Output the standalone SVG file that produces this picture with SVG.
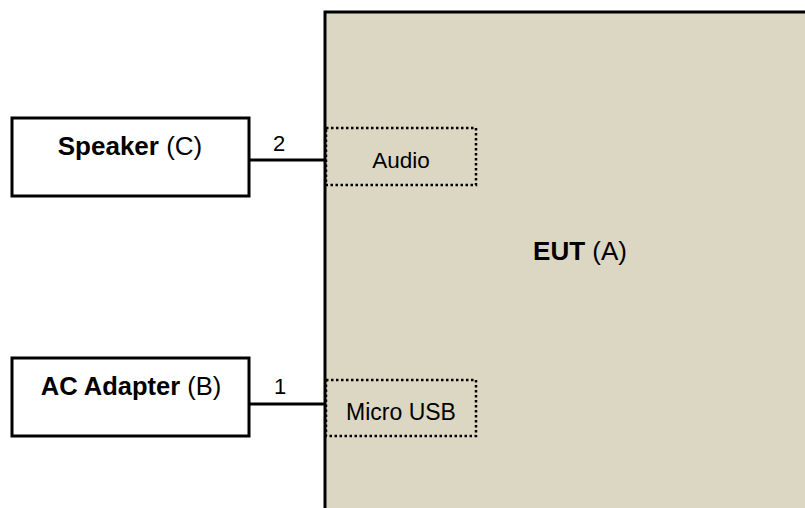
<svg xmlns="http://www.w3.org/2000/svg" width="805" height="508" viewBox="0 0 805 508">
<style>
.box{fill:#fff;stroke:#000;stroke-width:3}
.port{fill:none;stroke:#000;stroke-width:2.5;stroke-dasharray:2.5 2.5}
.t{font-family:"Liberation Sans",Arial,sans-serif;fill:#000}
.b{font-weight:bold}
.wire{stroke:#000;stroke-width:3;fill:none}
</style>
<rect width="805" height="508" fill="#fff"/>
<g id="eut">
<rect x="325" y="12" width="482" height="500" fill="#DCD7C2" stroke="#000" stroke-width="3"/>
<text class="t" x="580" y="260" font-size="26" text-anchor="middle"><tspan class="b">EUT</tspan> (A)</text>
</g>
<g id="audio">
<rect class="port" x="326" y="128" width="150" height="57"/>
<text class="t" x="401" y="168" font-size="22.5" text-anchor="middle">Audio</text>
</g>
<g id="microusb">
<rect class="port" x="326" y="380" width="150" height="56"/>
<text class="t" x="401" y="420" font-size="23" text-anchor="middle">Micro USB</text>
</g>
<g id="speaker">
<rect class="box" x="12" y="118" width="237" height="78"/>
<text class="t" x="130" y="155" font-size="26" text-anchor="middle"><tspan class="b">Speaker</tspan> (C)</text>
</g>
<g id="adapter">
<rect class="box" x="12" y="358" width="237" height="78"/>
<text class="t" x="131" y="395" font-size="25.5" text-anchor="middle"><tspan class="b">AC Adapter</tspan> (B)</text>
</g>
<g id="connectors">
<line class="wire" x1="249" y1="160" x2="325" y2="160"/>
<text class="t" x="279" y="151" font-size="22" text-anchor="middle">2</text>
<line class="wire" x1="249" y1="404" x2="325" y2="404"/>
<text class="t" x="280" y="394" font-size="22" text-anchor="middle">1</text>
</g>
</svg>
